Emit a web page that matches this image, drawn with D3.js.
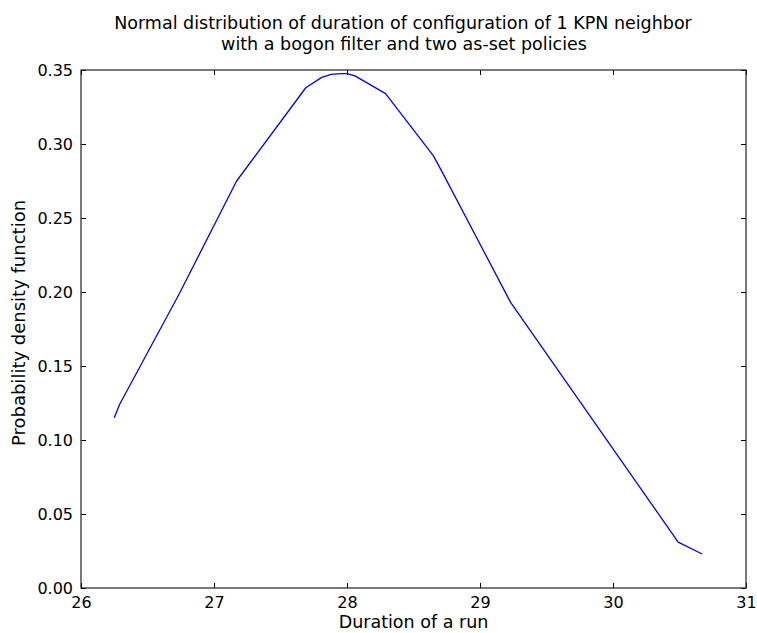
<!DOCTYPE html>
<html>
<head>
<meta charset="utf-8">
<script src="https://cdn.jsdelivr.net/npm/d3@7"></script>
<style>
  body { margin: 0; background: #fff; }
  svg text { font-family: "DejaVu Sans", sans-serif; fill: #000; }
</style>
</head>
<body>
<svg width="757" height="633"></svg>
<script>
// points (duration, pdf)
var durations = [26.25, 26.29, 26.74, 27.17, 27.69, 27.81, 27.88, 27.95, 28.00, 28.06, 28.29, 28.65, 28.71, 29.23, 30.49, 30.67];
var pdfValues = [0.115, 0.124, 0.199, 0.275, 0.338, 0.345, 0.347, 0.3476, 0.3476, 0.346, 0.334, 0.292, 0.282, 0.193, 0.031, 0.023];
var xTicks = [26, 27, 28, 29, 30, 31];
var yTicks = [0, 0.05, 0.10, 0.15, 0.20, 0.25, 0.30, 0.35];

var svg = d3.select("svg");
var margin = { top: 70, right: 11, bottom: 45, left: 81 };
var width = 757 - margin.left - margin.right;
var height = 633 - margin.top - margin.bottom;
var g = svg.append("g").attr("transform", "translate(" + margin.left + "," + margin.top + ")");

var x = d3.scaleLinear().domain([26, 31]).range([0, width]);
var y = d3.scaleLinear().domain([0, 0.35]).range([height, 0]);

var dataset = durations.map(function (d, i) { return [d, pdfValues[i]]; });

var line = d3.line()
    .x(function (d) { return x(d[0]); })
    .y(function (d) { return y(d[1]); });

// bottom axis, ticks pointing inward
var xAxis = g.append("g")
    .attr("transform", "translate(0," + height + ")")
    .call(d3.axisBottom(x).tickValues(xTicks).tickFormat(d3.format("d")).tickSizeInner(-5).tickSizeOuter(0).tickPadding(9));
xAxis.select(".domain").remove();
xAxis.selectAll("text").style("font-size", "16px");

// top ticks
var xTop = g.append("g")
    .call(d3.axisTop(x).tickValues(xTicks).tickFormat("").tickSizeInner(-5).tickSizeOuter(0));
xTop.select(".domain").remove();

var yAxis = g.append("g")
    .call(d3.axisLeft(y).tickValues(yTicks).tickFormat(d3.format(".2f")).tickSizeInner(-5).tickSizeOuter(0).tickPadding(8));
yAxis.select(".domain").remove();
yAxis.selectAll("text").style("font-size", "16px");

var yRight = g.append("g")
    .attr("transform", "translate(" + width + ",0)")
    .call(d3.axisRight(y).tickValues(yTicks).tickFormat("").tickSizeInner(-5).tickSizeOuter(0));
yRight.select(".domain").remove();

g.selectAll(".tick line").attr("stroke", "#000");

g.append("path")
    .datum(dataset)
    .attr("fill", "none")
    .attr("stroke", "#0000ff")
    .attr("stroke-width", 1.3)
    .attr("stroke-linejoin", "round")
    .attr("d", line);

// frame
g.append("rect")
    .attr("width", width)
    .attr("height", height)
    .attr("fill", "none")
    .attr("stroke", "#222")
    .attr("stroke-width", 1.2);

svg.append("text")
    .attr("x", 403)
    .attr("y", 29)
    .attr("text-anchor", "middle")
    .style("font-size", "17.5px")
    .text("Normal distribution of duration of configuration of 1 KPN neighbor");
svg.append("text")
    .attr("x", 404)
    .attr("y", 50)
    .attr("text-anchor", "middle")
    .style("font-size", "17.5px")
    .text("with a bogon filter and two as-set policies");

svg.append("text")
    .attr("x", margin.left + width / 2)
    .attr("y", 628)
    .attr("text-anchor", "middle")
    .style("font-size", "17.5px")
    .text("Duration of a run");

svg.append("text")
    .attr("transform", "translate(25," + (margin.top + height / 2 - 6) + ") rotate(-90)")
    .attr("text-anchor", "middle")
    .style("font-size", "18px")
    .text("Probability density function");
</script>
</body>
</html>
